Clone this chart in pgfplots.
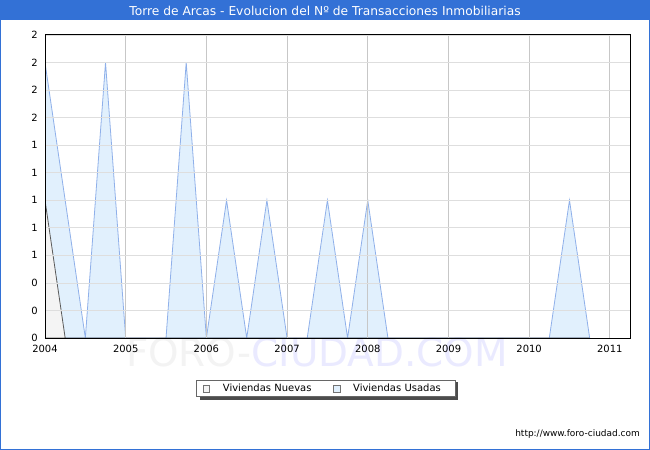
\documentclass[border=0pt]{standalone}
\usepackage{pgfplots}
\pgfplotsset{compat=1.18}
\usepackage{fontspec}
\setmainfont{DejaVu Sans}

\definecolor{titleblue}{RGB}{51,113,214}
\definecolor{usadaline}{RGB}{143,176,234}
\definecolor{usadafill}{RGB}{225,240,253}
\definecolor{nuevaline}{RGB}{90,90,90}
\definecolor{nuevafill}{RGB}{244,244,244}
\definecolor{wmgray}{RGB}{243,243,243}
\definecolor{wmblue}{RGB}{234,234,255}

\begin{document}
\begin{tikzpicture}
\useasboundingbox (-45bp,-112bp) rectangle (605bp,338bp);
% frame and title bar
\fill[white] (-45bp,-112bp) rectangle (605bp,338bp);
\fill[titleblue] (-45bp,318bp) rectangle (605bp,338bp);
\draw[titleblue, line width=1.2bp] (-44.4bp,-111.4bp) rectangle (604.4bp,337.4bp);
\node[white, font=\fontsize{12.3}{14}\selectfont] at (280bp,327.5bp) {Torre de Arcas - Evolucion del Nº de Transacciones Inmobiliarias};
% watermark
\node[font=\fontsize{39}{43}\selectfont, inner sep=0pt] at (272bp,-14bp)
  {\textcolor{wmgray}{FORO-}\textcolor{wmblue}{CIUDAD.COM}};
\node[anchor=east, font=\fontsize{9}{11}\selectfont, inner sep=0pt] at (595bp,-96bp) {http://www.foro-ciudad.com};
% legend shadow
\fill[black!70] (154.5bp,-62bp) rectangle (412.5bp,-44bp);

\begin{axis}[
    scale only axis,
    width=585bp, height=303bp,
    at={(0,0)}, anchor=south west,
    xmin=2004, xmax=2011.25,
    ymin=0, ymax=2.2,
    xtick={2004,2005,2006,2007,2008,2009,2010,2011},
    xticklabels={2004,2005,2006,2007,2008,2009,2010,2011},
    ytick={0,0.2,0.4,0.6,0.8,1.0,1.2,1.4,1.6,1.8,2.0,2.2},
    yticklabels={0,0,0,1,1,1,1,1,2,2,2,2},
    major tick length=0pt,
    tick label style={font=\fontsize{10}{12}\selectfont, inner sep=0pt},
    xticklabel style={yshift=-6.5bp},
    yticklabel style={xshift=-7bp},
    grid=major,
    x grid style={color=black!22, line width=0.8bp},
    y grid style={color=black!13, line width=0.8bp},
    axis line style={black, line width=1bp},
    axis on top,
    legend columns=2,
    legend style={at={(axis description cs:0.4803,-0.1667)}, anchor=center,
        draw=black!60, line width=0.8bp, fill=white,
        font=\fontsize{10}{12}\selectfont,
        inner xsep=6bp, inner ysep=3.5bp,
        nodes={inner sep=0pt, text height=7.5bp, text depth=2bp},
        /tikz/every odd column/.append style={column sep=13bp},
        /tikz/every even column/.append style={column sep=14bp, text width=96bp}},
    legend cell align=left,
]
\addlegendimage{legend image code/.code={\draw[draw=black!55, fill=nuevafill, line width=0.6bp] (0bp,-3.3bp) rectangle (6.6bp,3.3bp);}}
\addlegendentry{Viviendas Nuevas}
\addlegendimage{legend image code/.code={\draw[draw=black!55, fill=usadafill, line width=0.6bp] (0bp,-3.3bp) rectangle (6.6bp,3.3bp);}}
\addlegendentry{Viviendas Usadas}

\addplot[forget plot, draw=usadaline, fill=usadafill, line width=0.8bp] coordinates {
    (2004.00,2) (2004.25,1) (2004.50,0) (2004.75,2)
    (2005.00,0) (2005.25,0) (2005.50,0) (2005.75,2)
    (2006.00,0) (2006.25,1) (2006.50,0) (2006.75,1)
    (2007.00,0) (2007.25,0) (2007.50,1) (2007.75,0)
    (2008.00,1) (2008.25,0) (2008.50,0) (2008.75,0)
    (2009.00,0) (2009.25,0) (2009.50,0) (2009.75,0)
    (2010.00,0) (2010.25,0) (2010.50,1) (2010.75,0)
} \closedcycle;
\addplot[forget plot, draw=nuevaline, fill=nuevafill, line width=0.8bp] coordinates {
    (2004.00,1) (2004.25,0) (2004.50,0) (2004.75,0)
    (2005.00,0) (2005.25,0) (2005.50,0) (2005.75,0)
    (2006.00,0) (2006.25,0) (2006.50,0) (2006.75,0)
    (2007.00,0) (2007.25,0) (2007.50,0) (2007.75,0)
    (2008.00,0) (2008.25,0) (2008.50,0) (2008.75,0)
    (2009.00,0) (2009.25,0) (2009.50,0) (2009.75,0)
    (2010.00,0) (2010.25,0) (2010.50,0) (2010.75,0)
} \closedcycle;
\end{axis}
\end{tikzpicture}
\end{document}
